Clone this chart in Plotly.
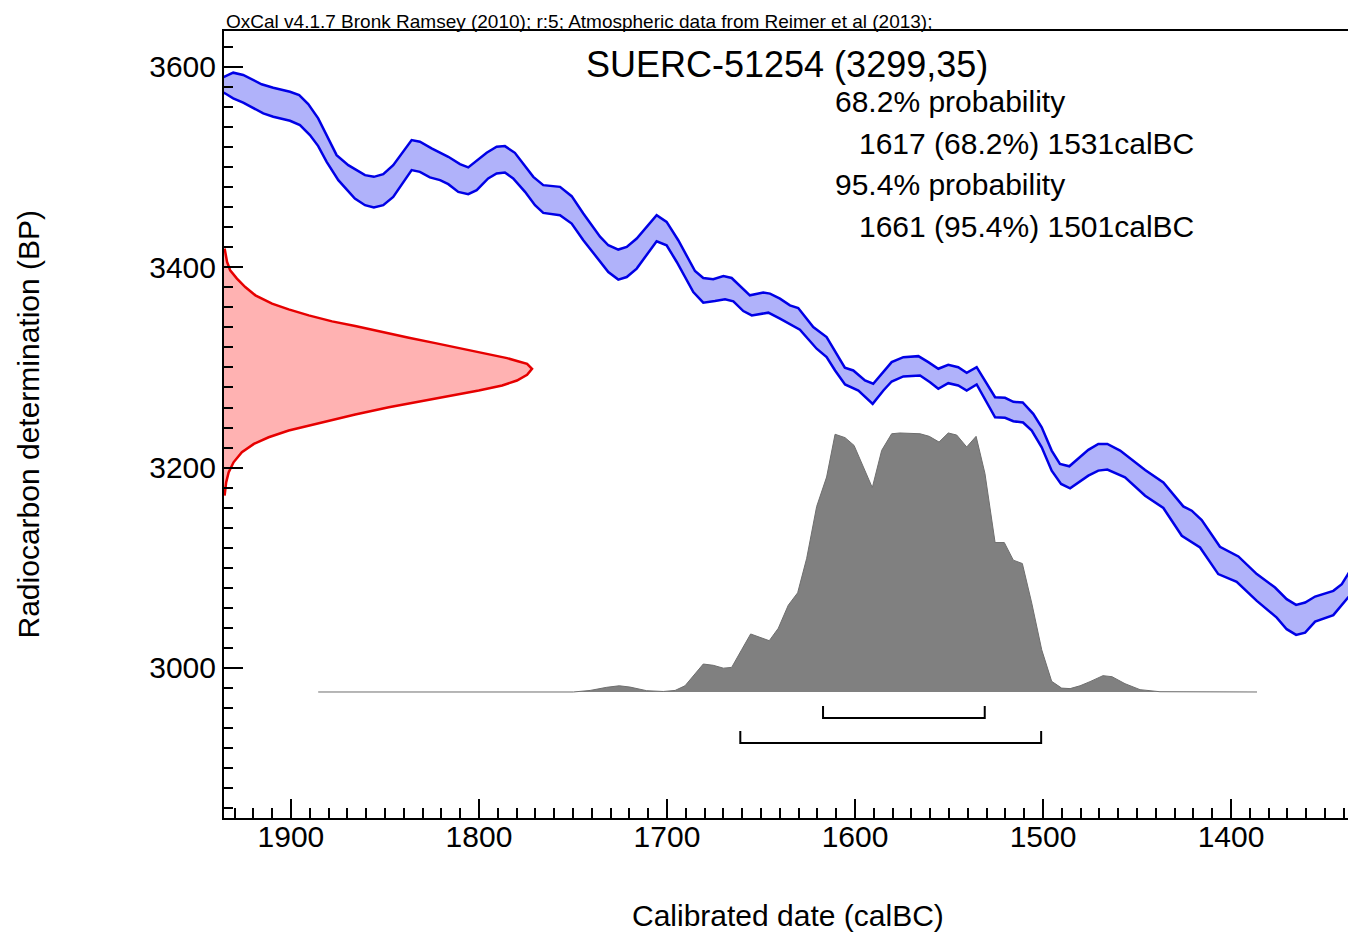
import plotly.graph_objects as go

# ---------------- data ----------------
# Calibration curve (IntCal13) band: upper and lower edges (calBC, BP)
cal_upper_year = [1938, 1935.1, 1930.7, 1925.4, 1915.6, 1909.4, 1900.5, 1895.6, 1890.8, 1885.5, 1875.7,
                  1869.5, 1860.6, 1855.9, 1850.9, 1845.6, 1835.8, 1831.4, 1825.2, 1816.3, 1810.1,
                  1805.7, 1795.9, 1790.6, 1786.2, 1780.9, 1771.1, 1765.8, 1756.9, 1750.7, 1744.5,
                  1735.6, 1731.2, 1725.9, 1721.4, 1716.1, 1705.5, 1700.2, 1694.0, 1685.1, 1680.7,
                  1675.4, 1670.0, 1665.6, 1655.9, 1648.8, 1645.2, 1639.9, 1634.6, 1630.2, 1622.2,
                  1615.1, 1605.4, 1600.9, 1594.7, 1590.3, 1580.5, 1574.3, 1566.3, 1561.0, 1555.7,
                  1550.4, 1545.1, 1540.6, 1535.3, 1525.5, 1520.2, 1515.8, 1510.8, 1505.2, 1500.7,
                  1495.4, 1491.0, 1486.0, 1475.9, 1470.6, 1465.8, 1459.0, 1452.0, 1445.7, 1436.0,
                  1430.7, 1425.4, 1420.9, 1415.6, 1405.9, 1396.1, 1386.3, 1376.6, 1370.4, 1365.4,
                  1360.6, 1355.3, 1345.6, 1341.1, 1337.8, 1335]
cal_upper_bp = [3588, 3590.3, 3594.3, 3592, 3582.7, 3579.3, 3575.3, 3572, 3563, 3548.7, 3512,
                3502, 3492, 3490.3, 3493, 3502, 3527, 3525.3, 3518.7, 3510.3, 3503,
                3499.7, 3514.3, 3520.3, 3521, 3514.3, 3490.3, 3482, 3480.3, 3471, 3453.7,
                3430.5, 3422, 3417.7, 3420.3, 3428.7, 3452, 3445.3, 3427, 3396.3, 3389.3,
                3388, 3391.3, 3389.3, 3372, 3374.7, 3373.7, 3368.7, 3362, 3359.3, 3340.3,
                3330.3, 3299.7, 3297, 3287, 3283.7, 3305.3, 3310.3, 3311.3, 3305.3, 3298.7,
                3302.7, 3300.3, 3294.7, 3300.3, 3270.3, 3269.7, 3265.7, 3265, 3253.7, 3240.3,
                3217, 3203.7, 3201.3, 3217.7, 3223.7, 3223.7, 3217, 3207, 3197.7, 3185.3,
                3173.7, 3161.3, 3157, 3147.7, 3121, 3111.3, 3093.7, 3080.3, 3068.7, 3063,
                3065.3, 3071.3, 3077, 3083.7, 3093.7, 3102]

cal_lower_year = [1938, 1935.1, 1930.7, 1925.4, 1914.7, 1909.4, 1900.5, 1895.2, 1889.9, 1885.5, 1881.0,
                  1874.8, 1866.0, 1860.6, 1855.9, 1850.9, 1845.6, 1835.8, 1831.4, 1826.1, 1820.7,
                  1816.3, 1811.0, 1805.7, 1801.2, 1795.1, 1790.6, 1786.2, 1781.8, 1775.5, 1770.2,
                  1765.8, 1756.9, 1750.7, 1744.5, 1735.6, 1731.2, 1725.9, 1721.4, 1716.1, 1705.5,
                  1700.2, 1694.8, 1686.0, 1680.7, 1674.5, 1669.1, 1664.7, 1659.4, 1654.9, 1646.1,
                  1639.9, 1633.7, 1629.3, 1620.4, 1615.1, 1610.6, 1605.3, 1598.2, 1590.6, 1584.9,
                  1580.5, 1574.3, 1565.4, 1560.1, 1555.7, 1550.4, 1545.1, 1540.6, 1535.3, 1525.5,
                  1520.2, 1515.8, 1510.6, 1506.0, 1500.7, 1495.4, 1490.4, 1485.6, 1475.9, 1470.6,
                  1465.8, 1456.4, 1445.7, 1436.0, 1426.2, 1416.5, 1406.8, 1397.0, 1386.3, 1375.7,
                  1370.4, 1365.4, 1360.6, 1355.3, 1345.6, 1337.8, 1335]
cal_lower_bp = [3576, 3573.7, 3568.7, 3564.3, 3553.7, 3550.3, 3546.3, 3542, 3532, 3521, 3505.3,
                3487, 3468.7, 3462, 3459.7, 3462, 3470.3, 3497, 3495.3, 3489.7, 3487,
                3483, 3475.3, 3473, 3477, 3488.7, 3493.7, 3494.7, 3488.7, 3475.3, 3462,
                3454.3, 3452, 3443.7, 3427, 3405.5, 3395.3, 3387.7, 3390.3, 3398.7, 3426,
                3422, 3405.3, 3375.3, 3364.7, 3366.3, 3368, 3366, 3356.3, 3352, 3354.7,
                3348.7, 3342, 3337.7, 3318.7, 3310.3, 3297, 3283, 3277, 3263.7, 3277,
                3286, 3291, 3292, 3285.3, 3278.7, 3284.3, 3282, 3277, 3283, 3250.3,
                3249.7, 3246.3, 3245, 3237, 3220.3, 3197, 3183.7, 3179.3, 3192, 3197,
                3198, 3190.3, 3172, 3159.7, 3132, 3120.3, 3093.7, 3086, 3067, 3050.3,
                3038.7, 3033, 3035.3, 3046.3, 3052.7, 3070.3, 3076]

# Radiocarbon measurement distribution (BP, relative probability)
c14_bp = [3418.7, 3405.3, 3397, 3388.7, 3380.3, 3372, 3363.7, 3358, 3352, 3346, 3341.3, 3335.3,
          3329.7, 3324.3, 3318.7, 3313.7, 3309.3, 3306, 3303.7, 3298.7, 3292.7, 3287, 3282,
          3277, 3272, 3266.3, 3260.3, 3253, 3245.3, 3237, 3230.3, 3223.7, 3215.3, 3205.3,
          3195.3, 3185.3, 3172]
c14_prob = [0.002, 0.01, 0.02, 0.042, 0.069, 0.102, 0.156, 0.21, 0.275, 0.351, 0.426, 0.513,
            0.6, 0.686, 0.773, 0.849, 0.919, 0.957, 0.984, 1.0, 0.984, 0.951, 0.903,
            0.827, 0.74, 0.643, 0.535, 0.426, 0.318, 0.21, 0.145, 0.097, 0.058, 0.031,
            0.015, 0.007, 0.002]

# Calibrated date distribution (calBC, relative probability)
cal_year = [1885.5, 1749.8, 1740.9, 1732.1, 1725.4, 1719.7, 1710.8, 1702.0, 1695.7, 1690.4, 1680.7,
            1675.4, 1670.0, 1665.6, 1660.3, 1655.5, 1645.6, 1640.8, 1635.5, 1630.5, 1625.7,
            1620.4, 1615.1, 1610.6, 1605.3, 1600.5, 1590.8, 1585.8, 1580.5, 1576.1, 1565.4,
            1560.5, 1555.3, 1550.4, 1545.9, 1540.6, 1535.6, 1530.9, 1525.5, 1520.6, 1515.8,
            1511.0, 1506.0, 1500.7, 1495.4, 1490.1, 1485.6, 1480.3, 1475.0, 1468.1, 1463.3,
            1456.4, 1448.4, 1437.8, 1386.2]
cal_prob = [0, 0, 0.006, 0.018, 0.024, 0.019, 0.005, 0.002, 0.006, 0.024, 0.108,
            0.103, 0.092, 0.095, 0.163, 0.224, 0.198, 0.246, 0.335, 0.383, 0.516,
            0.716, 0.830, 0.995, 0.982, 0.952, 0.789, 0.933, 0.997, 1.0, 0.997,
            0.987, 0.965, 1.0, 0.992, 0.946, 0.987, 0.844, 0.577, 0.577, 0.509,
            0.496, 0.343, 0.163, 0.041, 0.015, 0.013, 0.024, 0.040, 0.063, 0.059,
            0.032, 0.009, 0.001, 0]

# Highest probability ranges (calBC)
range_68 = [1617, 1531]
range_95 = [1661, 1501]

x_ticks = [1900, 1800, 1700, 1600, 1500, 1400]
y_ticks = [3000, 3200, 3400, 3600]

# ---------------- styling / layout constants ----------------
FONT = "Liberation Sans, Arial, sans-serif"
W, H = 1348, 933
ML, MR, MT, MB = 224, 0, 31, 933 - 818
PW, PH = W - ML - MR, H - MT - MB
X_RANGE = [1935.6, 1337.8]
Y_RANGE = [2850.2, 3635.9]
BR68_Y, BR95_Y, BR_TICK = 2950, 2925, 12


def px(x):
    # x in screenshot pixels -> paper fraction
    return (x - ML) / PW


def py(y):
    return (H - MB - y) / PH


fig = go.Figure()

# calibration band
fig.add_trace(go.Scatter(x=cal_lower_year, y=cal_lower_bp, mode="lines",
                         line=dict(color="#0000e6", width=2.5), hoverinfo="skip"))
fig.add_trace(go.Scatter(x=cal_upper_year, y=cal_upper_bp, mode="lines",
                         line=dict(color="#0000e6", width=2.5), fill="tonexty",
                         fillcolor="rgb(176,178,250)", hoverinfo="skip"))

# radiocarbon date distribution (red, on y axis)
fig.add_trace(go.Scatter(x=c14_prob, y=c14_bp, xaxis="x2", yaxis="y", mode="lines",
                         line=dict(color="#e60000", width=2.5), fill="tozerox",
                         fillcolor="rgb(255,178,178)", hoverinfo="skip"))

# calibrated distribution (grey)
fig.add_trace(go.Scatter(x=cal_year, y=cal_prob, xaxis="x", yaxis="y2", mode="lines",
                         line=dict(color="#6e6e6e", width=1), fill="tozeroy",
                         fillcolor="rgb(128,128,128)", hoverinfo="skip"))

# range brackets
for rng, lev in ((range_68, BR68_Y), (range_95, BR95_Y)):
    fig.add_trace(go.Scatter(x=[rng[0], rng[0], rng[1], rng[1]],
                             y=[lev + BR_TICK, lev, lev, lev + BR_TICK],
                             mode="lines", line=dict(color="black", width=2),
                             hoverinfo="skip"))

axis_common = dict(showgrid=False, zeroline=False, showline=True, linecolor="black",
                   linewidth=2, ticks="inside", tickcolor="black", tickwidth=2, ticklen=19,
                   tickfont=dict(family=FONT, size=30, color="black"))

fig.update_layout(
    width=W, height=H, autosize=False,
    margin=dict(l=ML, r=MR, t=MT, b=MB, pad=0),
    paper_bgcolor="white", plot_bgcolor="white",
    showlegend=False,
    font=dict(family=FONT, color="black"),
    xaxis=dict(range=X_RANGE, tickmode="array", tickvals=x_ticks,
               ticktext=[str(v) for v in x_ticks], mirror=True, ticklabelstandoff=-9,
               minor=dict(dtick=10, tick0=0, ticks="inside", ticklen=10, tickwidth=1.5,
                          tickcolor="black", showgrid=False),
               **axis_common),
    yaxis=dict(range=Y_RANGE, tickmode="array", tickvals=y_ticks,
               ticktext=[str(v) for v in y_ticks], mirror=False,
               minor=dict(dtick=20, tick0=0, ticks="inside", ticklen=9, tickwidth=1.5,
                          tickcolor="black", showgrid=False),
               **axis_common),
    xaxis2=dict(overlaying="x", range=[0, 3.649], visible=False),
    yaxis2=dict(overlaying="y", range=[-0.4865, 2.552], visible=False),
)

ann = [
    dict(text="OxCal v4.1.7 Bronk Ramsey (2010); r:5; Atmospheric data from Reimer et al (2013);",
         x=px(224), y=py(21.5), xanchor="left", yanchor="middle", size=19),
    dict(text="SUERC-51254 (3299,35)", x=px(787), y=py(64), xanchor="center",
         yanchor="middle", size=36),
    dict(text="68.2% probability", x=px(833), y=py(102), xanchor="left", yanchor="middle", size=30),
    dict(text="1617 (68.2%) 1531calBC", x=px(857), y=py(143), xanchor="left", yanchor="middle", size=30),
    dict(text="95.4% probability", x=px(833), y=py(185), xanchor="left", yanchor="middle", size=30),
    dict(text="1661 (95.4%) 1501calBC", x=px(857), y=py(226), xanchor="left", yanchor="middle", size=30),
    dict(text="Calibrated date (calBC)", x=px(788), y=py(915), xanchor="center", yanchor="middle", size=30),
]
for a in ann:
    fig.add_annotation(text=a["text"], x=a["x"], y=a["y"], xref="paper", yref="paper",
                       xanchor=a["xanchor"], yanchor=a["yanchor"], showarrow=False,
                       font=dict(family=FONT, size=a["size"], color="black"))
fig.add_annotation(text="Radiocarbon determination (BP)", x=px(28), y=py(424.5),
                   xref="paper", yref="paper", xanchor="center", yanchor="middle",
                   textangle=-90, showarrow=False,
                   font=dict(family=FONT, size=30, color="black"))

# remove the default page margin so the figure fills the whole window
fig.write_html("out.html", config={"displayModeBar": False},
               post_script="document.body.style.margin='0';document.body.style.overflow='hidden';")
